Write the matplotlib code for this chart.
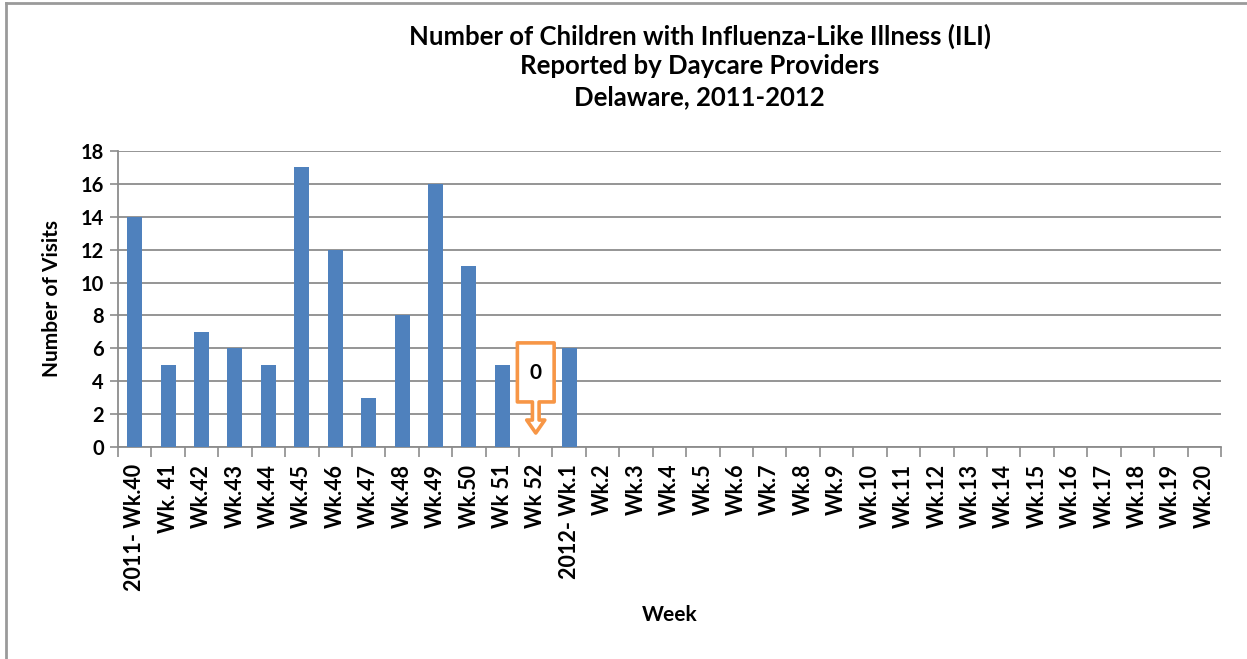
import matplotlib
matplotlib.use("Agg")
import matplotlib.pyplot as plt
from matplotlib.patches import Polygon
from matplotlib.lines import Line2D
import numpy as np

# data
weeks = (["2011- Wk.40", "Wk. 41"]
         + ["Wk.%d" % w for w in range(42, 51)]
         + ["Wk 51", "Wk 52", "2012- Wk.1"]
         + ["Wk.%d" % w for w in range(2, 21)])
visits = [14, 5, 7, 6, 5, 17, 12, 3, 8, 16, 11, 5, 0, 6] + [np.nan] * 19
callout_week = "Wk 52"
callout_text = "0"

plt.rcParams['font.family'] = ['Lato', 'DejaVu Sans']
plt.rcParams['font.weight'] = 'bold'

fig = plt.figure(figsize=(12.47, 6.59), dpi=100)
ax = fig.add_axes([0.0946, 0.3217, 0.8845, 0.4492])

x = np.arange(len(weeks))
ax.bar(x, visits, width=0.45, color="#4F81BD", zorder=3)

ax.set_xlim(-0.5, len(weeks) - 0.5)
ax.set_ylim(0, 18)
ax.set_yticks(range(0, 19, 2))
ax.yaxis.grid(True, color="#8c8c8c", linewidth=1.3, zorder=0)

# category labels in the middle, ticks on the boundaries
ax.set_xticks(x)
ax.set_xticklabels(weeks, rotation=90, fontsize=15.5, fontweight='bold')
ax.set_xticks(np.arange(-0.5, len(weeks)), minor=True)
ax.tick_params(axis='x', which='major', length=0, pad=12)
ax.tick_params(axis='x', which='minor', length=7, color="#8c8c8c", width=1.2)
ax.tick_params(axis='y', length=6, color="#8c8c8c", width=1.2, labelsize=14.5, pad=4)
for lab in ax.get_yticklabels():
    lab.set_fontweight('bold')

for s in ['top', 'right']:
    ax.spines[s].set_visible(False)
for s in ['left', 'bottom']:
    ax.spines[s].set_color("#8c8c8c")
    ax.spines[s].set_linewidth(1.3)

ax.set_ylabel("Number of Visits", fontsize=15, fontweight='bold')
ax.yaxis.set_label_coords(-0.051, 0.5)
ax.set_xlabel("Week", fontsize=15, fontweight='bold')
ax.xaxis.set_label_coords(0.5, -0.535)

# callout above the zero bar
cx = weeks.index(callout_week)
shape = [(cx - 0.55, 6.33), (cx + 0.55, 6.33), (cx + 0.55, 2.74),
         (cx + 0.1, 2.74), (cx + 0.1, 1.64), (cx + 0.27, 1.64),
         (cx, 0.85), (cx - 0.27, 1.64), (cx - 0.1, 1.64),
         (cx - 0.1, 2.74), (cx - 0.55, 2.74)]
ax.add_patch(Polygon(shape, closed=True, facecolor="white",
                     edgecolor="#F79646", linewidth=2.6, zorder=5,
                     joinstyle='round'))
ax.text(cx, 4.5, callout_text, ha='center', va='center', fontsize=15,
        fontweight='bold', zorder=6)

fig.text(0.561, 0.945, "Number of Children with Influenza-Like Illness (ILI)",
         ha='center', va='center', fontsize=18.5, fontweight='bold')
fig.text(0.561, 0.900, "Reported by Daycare Providers",
         ha='center', va='center', fontsize=18.5, fontweight='bold')
fig.text(0.561, 0.852, "Delaware, 2011-2012",
         ha='center', va='center', fontsize=18.5, fontweight='bold')

# outer chart frame (only top and left edges are visible)
fig.add_artist(Line2D([0.005, 0.005], [0.0, 0.995], color="#9a9a9a", linewidth=2))
fig.add_artist(Line2D([0.005, 1.0], [0.995, 0.995], color="#9a9a9a", linewidth=2))

fig.savefig("out.png", dpi=100)
